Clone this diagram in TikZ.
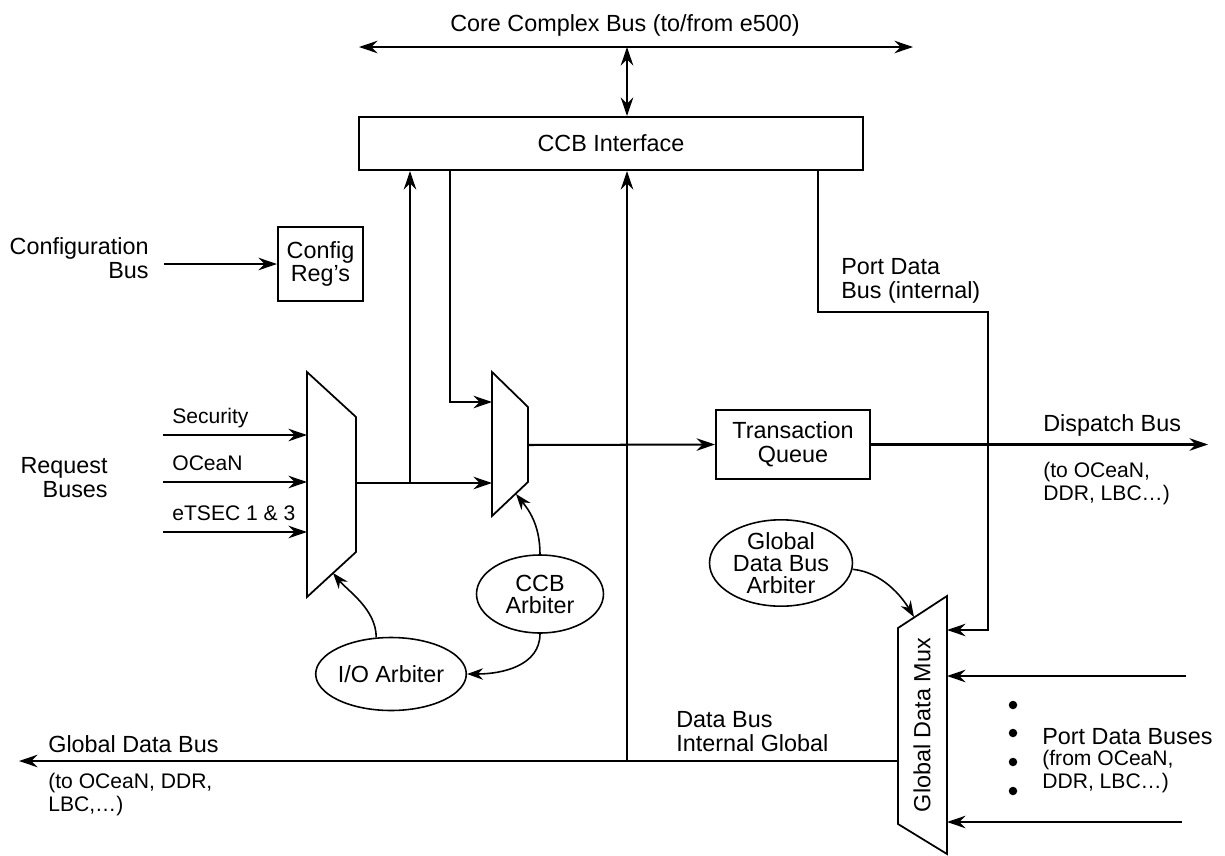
\documentclass[tikz,border=0pt]{standalone}
\usepackage{fontspec}
\setmainfont{Liberation Sans}
\usetikzlibrary{arrows.meta,positioning,shapes.geometric}

\newcommand{\busfont}{\fontsize{13.3}{13.6}\selectfont}
\newcommand{\notefont}{\fontsize{12}{13}\selectfont}

\begin{document}
\begin{tikzpicture}[
    x=0.02cm, y=-0.02cm,
    busline/.style={line width=1.15pt},
    busarrow/.style={busline, -{Stealth[length=3.7mm, width=2.5mm]}},
    bothbus/.style={busline, {Stealth[length=3.7mm, width=2.5mm]}-{Stealth[length=3.7mm, width=2.5mm]}},
    ctlarrow/.style={line width=0.9pt, -{Stealth[length=3.2mm, width=2.3mm]}},
    muxshape/.style={line width=1pt},
    blockbox/.style={draw, line width=1.15pt, align=center, inner sep=0pt, font=\busfont},
    arbiter/.style={draw, ellipse, line width=0.9pt, align=center, inner sep=0pt, font=\fontsize{13.3}{12.5}\selectfont},
    buslabel/.style={inner sep=0pt, align=left, font=\busfont},
    notelabel/.style={inner sep=0pt, align=left, font=\notefont},
  ]
  \useasboundingbox (0,0) rectangle (1225,856);

  % blocks
  \node[blockbox, minimum width=10.08cm, minimum height=1.06cm] (ccb) at (611,143.5) {CCB Interface};
  \node[blockbox, minimum width=1.70cm, minimum height=1.48cm] (cfg) at (320.5,264) {Config\\Reg’s};
  \node[blockbox, minimum width=3.08cm, minimum height=1.38cm] (tq) at (793,444.5) {Transaction\\Queue};

  % arbiters
  \node[arbiter, minimum width=2.72cm, minimum height=1.46cm] (ioarb) at (391,674) {I/O Arbiter};
  \node[arbiter, minimum width=2.54cm, minimum height=1.56cm] (ccbarb) at (540,594) {CCB\\Arbiter};
  \node[arbiter, minimum width=2.86cm, minimum height=1.64cm] (gdarb) at (781,563) {Global\\Data Bus\\Arbiter};

  % muxes
  \draw[muxshape] (307,372) -- (356,417) -- (356,552) -- (307,597) -- cycle;
  \draw[muxshape] (492,372) -- (528,407) -- (528,482) -- (492,516) -- cycle;
  \draw[muxshape] (898,628) -- (947,596) -- (947,854) -- (898,824) -- cycle;
  \node[rotate=90, inner sep=0pt, font=\busfont] (gdmux) at (922,725) {Global Data Mux};

  % bus end points
  \coordinate (coreL) at (359,47);
  \coordinate (coreR) at (913,47);
  \coordinate (coreT) at (627,47);
  \coordinate (cfgin) at (164,264);
  \coordinate (m1out) at (356,483);
  \coordinate (m1tap) at (410,483);
  \coordinate (m1ctl) at (333,573);
  \coordinate (m2inA) at (492,402);
  \coordinate (m2inB) at (492,483);
  \coordinate (m2out) at (528,445);
  \coordinate (m2ctl) at (516,494);
  \coordinate (ccbdn) at (450,402);
  \coordinate (pdbus) at (818,312);
  \coordinate (gdmA) at (947,630);
  \coordinate (gdmB) at (947,676);
  \coordinate (gdmC) at (947,822);
  \coordinate (gdmctl) at (914,617);
  \coordinate (gdmout) at (898,761);
  \coordinate (gdtap) at (627,761);
  \coordinate (gdend) at (19,761);
  \coordinate (pdinB) at (1186,676);
  \coordinate (pdinC) at (1182,822);
  \coordinate (dispend) at (1208,444.5);

  % buses
  \draw[bothbus] (coreL) -- (coreR);
  \draw[bothbus] (coreT) -- (coreT |- ccb.north);
  \draw[busarrow] (cfgin) -- (cfg.west);
  \foreach \yy/\lbl [count=\i] in {435/Security, 482/OCeaN, 532/eTSEC 1 \& 3} {
    \coordinate (reqin\i) at (163,\yy);
    \coordinate (m1in\i) at (307,\yy);
    \draw[busarrow] (reqin\i) -- (m1in\i);
    \node[notelabel, anchor=north west] (reqlbl\i) at (172,\yy-27) {\lbl};
  }
  \draw[busarrow] (m1out) -- (m2inB);
  \draw[busarrow] (m1tap) -- (m1tap |- ccb.south);
  \draw[busarrow] (ccbdn |- ccb.south) -- (ccbdn) -- (m2inA);
  \draw[busarrow] (m2out) -- (tq.west);
  \draw[busarrow] (tq.east) -- (dispend);
  \draw[busarrow] (gdtap) -- (gdtap |- ccb.south);
  \draw[busarrow] (pdbus |- ccb.south) -- (pdbus) -- ++(170,0) |- (gdmA);
  \draw[busarrow] (pdinB) -- (gdmB);
  \draw[busarrow] (pdinC) -- (gdmC);
  \draw[busarrow] (gdmout) -- (gdend);
  \foreach \yy in {705,733,762,791}
    \fill (1013,\yy) circle[radius=0.085cm];

  % arbiter controls
  \draw[ctlarrow] (ioarb.112) .. controls +(0,-28) and +(15,18) .. (m1ctl);
  \draw[ctlarrow] (ccbarb.north) .. controls +(0,-30) and +(12,15) .. (m2ctl);
  \draw[ctlarrow] (ccbarb.south) .. controls +(0,32) and +(35,0) .. (ioarb.east);
  \draw[ctlarrow] (gdarb.-5) .. controls +(30,3) and +(-12,-20) .. (gdmctl);

  % labels
  \node[buslabel, anchor=north] (corelbl) at (625,14) {Core Complex Bus (to/from e500)};
  \node[buslabel, anchor=north east, align=right] (cfglbl) at (149,237) {Configuration\\Bus};
  \node[buslabel, anchor=north east, align=right] (reqlbl) at (108,457) {Request\\Buses};
  \node[buslabel, anchor=north west] (pdlbl) at (841,258) {Port Data\\Bus (internal)};
  \node[buslabel, anchor=north west] (displbl) at (1043,414) {Dispatch Bus};
  \node[notelabel, anchor=north west] (dispnote) at (1043,462) {(to OCeaN,\\DDR, LBC…)};
  \node[buslabel, anchor=north west] (gdblbl) at (48,735) {Global Data Bus};
  \node[notelabel, anchor=north west] (gdbnote) at (48,773) {(to OCeaN, DDR,\\LBC,…)};
  \node[buslabel, anchor=north west] (intlbl) at (676,711) {Data Bus\\Internal Global};
  \node[buslabel, anchor=north west] (pdblbl) at (1042,728) {Port Data Buses};
  \node[notelabel, anchor=north west] (pdbnote) at (1042,750) {(from OCeaN,\\DDR, LBC…)};
\end{tikzpicture}
\end{document}
